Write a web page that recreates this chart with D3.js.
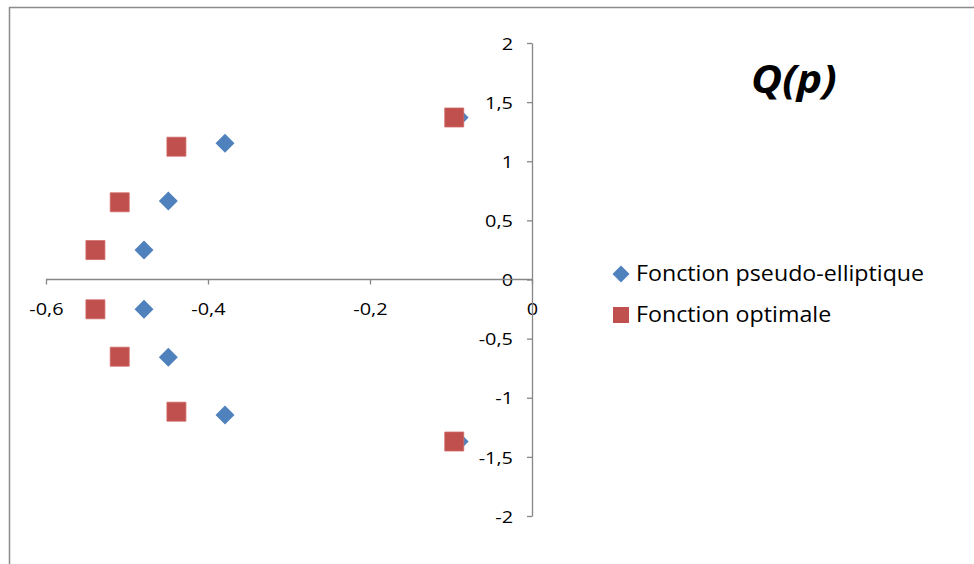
<!DOCTYPE html>
<html>
<head>
<meta charset="utf-8">
<script src="https://cdn.jsdelivr.net/npm/d3@7"></script>
<style>
  html, body { margin: 0; padding: 0; background: #fff; }
  svg { display: block; }
  text { font-family: "Open Sans", "Liberation Sans", sans-serif; fill: #000; }
</style>
</head>
<body>
<svg id="chart" width="974" height="564"></svg>
<script>
// ---- data ----
const seriesNames = ["Fonction pseudo-elliptique", "Fonction optimale"];
const pseudoX = [-0.09, -0.379, -0.449, -0.479, -0.479, -0.449, -0.379, -0.09];
const pseudoY = [1.37, 1.152, 0.664, 0.249, -0.252, -0.658, -1.146, -1.37];
const optX = [-0.096, -0.439, -0.509, -0.539, -0.539, -0.509, -0.439, -0.096];
const optY = [1.37, 1.123, 0.653, 0.249, -0.252, -0.653, -1.118, -1.37];
const xTicks = [-0.6, -0.4, -0.2, 0];
const xTickLabels = ["-0,6", "-0,4", "-0,2", "0"];
const yTicks = [2, 1.5, 1, 0.5, 0, -0.5, -1, -1.5, -2];
const yTickLabels = ["2", "1,5", "1", "0,5", "0", "-0,5", "-1", "-1,5", "-2"];
const title = "Q(p)";
const colors = ["#4F81BD", "#C0504D"];

const svg = d3.select("#chart");

// outer frame
svg.append("rect")
  .attr("x", 9.5).attr("y", 7.5)
  .attr("width", 1000).attr("height", 600)
  .attr("fill", "none").attr("stroke", "#8c8c8c").attr("stroke-width", 1.5);

const x = d3.scaleLinear().domain([-0.6, 0]).range([46, 532]);
const y = d3.scaleLinear().domain([-2, 2]).range([516, 43]);

const axisColor = "#868686";
const sx = 1.17; // horizontal stretch of the text, as in the reference

// x axis
const gx = svg.append("g")
  .attr("transform", `translate(0,${y(0)})`)
  .call(d3.axisBottom(x).tickValues(xTicks).tickSize(5).tickSizeOuter(0)
    .tickFormat((d, i) => xTickLabels[i]));
gx.selectAll("path, line").attr("stroke", axisColor).attr("stroke-width", 1.3);
gx.selectAll("text").attr("font-size", 17).attr("y", 0).attr("dy", 0)
  .attr("transform", `translate(0,35) scale(${sx},1)`).attr("fill", "#000");

// y axis
const gy = svg.append("g")
  .attr("transform", `translate(${x(0)},0)`)
  .call(d3.axisLeft(y).tickValues(yTicks).tickSize(5).tickSizeOuter(0)
    .tickFormat((d, i) => yTickLabels[i]));
gy.selectAll("path, line").attr("stroke", axisColor).attr("stroke-width", 1.3);
gy.selectAll("text").attr("font-size", 17).attr("dy", "0.36em").attr("x", 0)
  .attr("transform", `translate(-19,0) scale(${sx},1)`).attr("fill", "#000");
gx.select(".domain").remove();
svg.append("line")
  .attr("x1", x(-0.6)).attr("x2", x(0)).attr("y1", y(0)).attr("y2", y(0))
  .attr("stroke", axisColor).attr("stroke-width", 1.3);

// markers
const diamond = (r) => `M0,${-r}L${r},0L0,${r}L${-r},0Z`;
const square = (s) => `M${-s/2},${-s/2}h${s}v${s}h${-s}Z`;

const pseudo = pseudoX.map((v, i) => ({ x: v, y: pseudoY[i] }));
const opt = optX.map((v, i) => ({ x: v, y: optY[i] }));

svg.append("g").selectAll("path").data(pseudo).join("path")
  .attr("d", diamond(9.5))
  .attr("transform", d => `translate(${x(d.x)},${y(d.y)})`)
  .attr("fill", colors[0]);

svg.append("g").selectAll("path").data(opt).join("path")
  .attr("d", square(19))
  .attr("transform", d => `translate(${x(d.x)},${y(d.y)})`)
  .attr("fill", colors[1]).attr("stroke", "#d06a67").attr("stroke-width", 0.8);

// title
svg.append("text")
  .attr("transform", "translate(751,93) scale(1.07,1)")
  .attr("font-size", 40).attr("font-weight", "bold").attr("font-style", "italic")
  .text(title);

// legend
const lg = svg.append("g");
lg.append("path").attr("d", diamond(8.5)).attr("transform", "translate(621,274)").attr("fill", colors[0]);
lg.append("path").attr("d", square(16)).attr("transform", "translate(621,315)").attr("fill", colors[1]);
lg.append("text").attr("transform", "translate(636,281) scale(1.08,1)").attr("font-size", 21.5).text(seriesNames[0]);
lg.append("text").attr("transform", "translate(636,322) scale(1.08,1)").attr("font-size", 21.5).text(seriesNames[1]);
</script>
</body>
</html>
